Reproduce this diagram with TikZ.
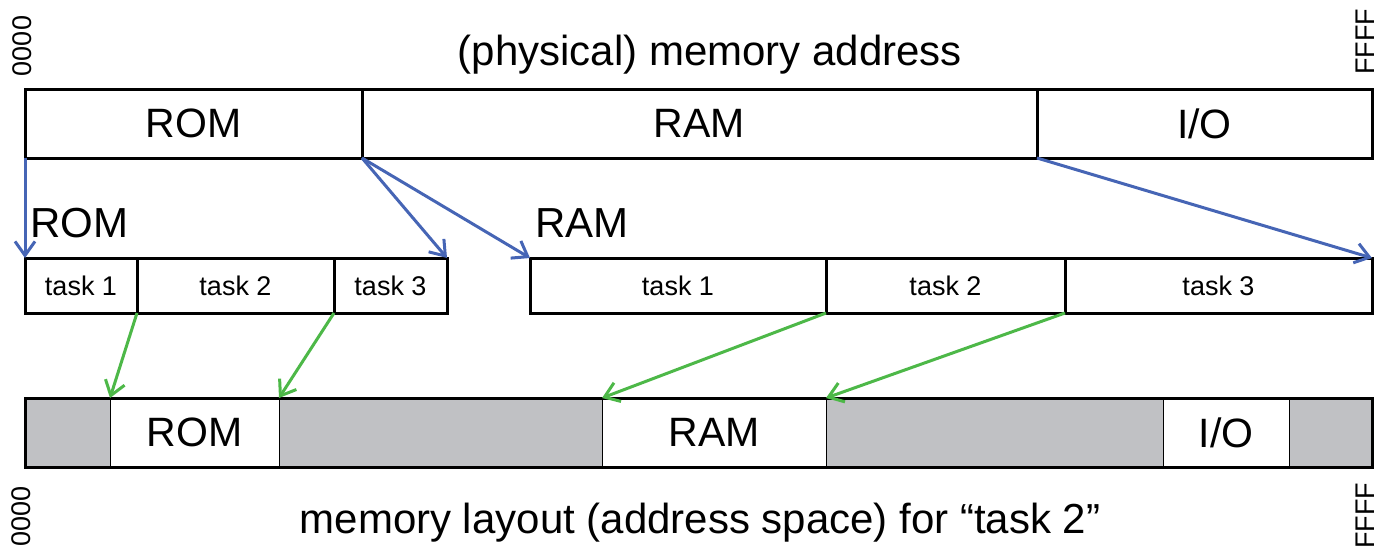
\documentclass[tikz,border=0pt]{standalone}
\usepackage{fontspec}
\setmainfont{Liberation Sans}
\usetikzlibrary{positioning,arrows.meta}
\definecolor{mapblue}{HTML}{4665B5}
\definecolor{mapgreen}{HTML}{4DB848}
\definecolor{unused}{HTML}{C0C1C4}
\tikzset{
  seg/.style={draw, line width=3pt, inner sep=0pt, outer sep=0pt, minimum height=69pt, font=\fontsize{41}{41}\selectfont},
  tasks/.style={seg, minimum height=55pt, font=\fontsize{27}{27}\selectfont},
  lay/.style={seg, line width=1pt},
  addr/.style={rotate=90, inner sep=0pt, font=\fontsize{27}{27}\selectfont},
  title/.style={anchor=base, inner sep=0pt, font=\fontsize{42}{42}\selectfont},
  tomem/.style={mapblue, line width=3pt, -{Straight Barb[length=14pt,width=20pt]}},
  totask/.style={mapgreen, line width=3pt, -{Straight Barb[length=14pt,width=20pt]}}
}
\begin{document}
\begin{tikzpicture}[x=1pt,y=-1pt]
    \useasboundingbox (0,0) rectangle (1381,551);
    %% physical memory
    \node[addr] (lo) at (22,46) {0000};
    \node[addr] (hi) at (1365,42) {FFFF};
    \node[title] (phys) at (710,66) {(physical) memory address};
    \node[seg, minimum width=337pt, anchor=north west] (rom) at (25,89) {ROM};
    \node[seg, minimum width=675pt, right=0pt of rom] (ram) {RAM};
    \node[seg, minimum width=335pt, right=0pt of ram] (io) {I/O};
    %% ROM split into tasks
    \node[title, anchor=base west] (romlbl) at (30,237) {ROM};
    \node[tasks, minimum width=112pt, anchor=north west] (r1) at (25,258) {task 1};
    \node[tasks, minimum width=197pt, right=0pt of r1] (r2) {task 2};
    \node[tasks, minimum width=113pt, right=0pt of r2] (r3) {task 3};
    %% RAM split into tasks
    \node[title, anchor=base west] (ramlbl) at (535,237) {RAM};
    \node[tasks, minimum width=296pt, anchor=north west] (a1) at (530,258) {task 1};
    \node[tasks, minimum width=239pt, right=0pt of a1] (a2) {task 2};
    \node[tasks, minimum width=307pt, right=0pt of a2] (a3) {task 3};
    %% layout seen by task 2
    \node[lay, fill=unused, minimum width=85pt, anchor=north west] (g1) at (25,398) {};
    \node[lay, fill=white, minimum width=169pt, right=0pt of g1] (lrom) {ROM};
    \node[lay, fill=unused, minimum width=323pt, right=0pt of lrom] (g2) {};
    \node[lay, fill=white, minimum width=224pt, right=0pt of g2] (lram) {RAM};
    \node[lay, fill=unused, minimum width=337pt, right=0pt of lram] (g3) {};
    \node[lay, fill=white, minimum width=126pt, right=0pt of g3] (lio) {I/O};
    \node[lay, fill=unused, minimum width=83pt, right=0pt of lio] (g4) {};
    \draw[line width=3pt] (g1.north west) rectangle (g4.south east);
    \node[addr] (lo2) at (21,516) {0000};
    \node[addr] (hi2) at (1365,516) {FFFF};
    \node[title] (space) at (700,533) {memory layout (address space) for “task 2”};
    %% mapping arrows
    \draw[tomem] (rom.south west) -- (r1.north west);
    \draw[tomem] (rom.south east) -- (r3.north east);
    \draw[tomem] (rom.south east) -- (a1.north west);
    \draw[tomem] (io.south west) -- (a3.north east);
    \draw[totask] (r2.south west) -- (lrom.north west);
    \draw[totask] (r3.south west) -- (lrom.north east);
    \draw[totask] (a2.south west) -- (lram.north west);
    \draw[totask] (a3.south west) -- (lram.north east);
\end{tikzpicture}
\end{document}
